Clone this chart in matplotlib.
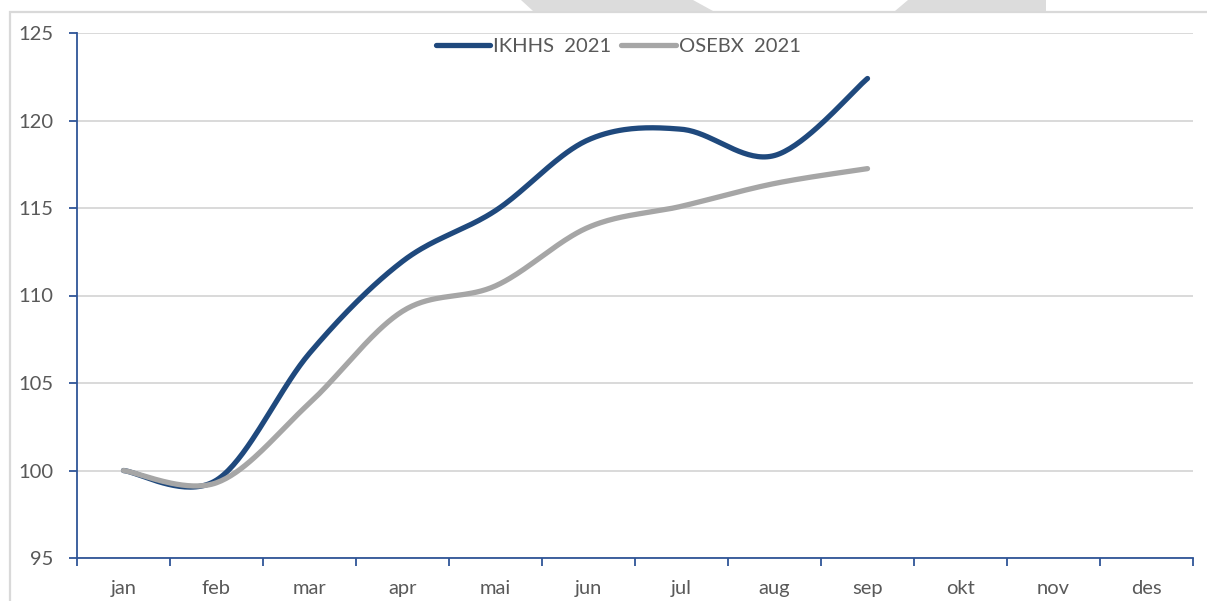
"""Index chart: IKHHS 2021 vs OSEBX 2021, monthly, smoothed lines."""

import matplotlib

matplotlib.use("Agg")
import matplotlib.pyplot as plt
import numpy as np
from matplotlib.patches import Polygon, Rectangle

MONTHS = ["jan", "feb", "mar", "apr", "mai", "jun", "jul", "aug", "sep", "okt", "nov", "des"]
IKHHS = [100.0, 99.45, 106.7, 111.95, 114.85, 118.9, 119.5, 118.0, 122.4]
OSEBX = [100.0, 99.3, 103.85, 109.1, 110.55, 113.9, 115.1, 116.4, 117.25]
SERIES_NAMES = ["IKHHS  2021", "OSEBX  2021"]
Y_TICKS = [95, 100, 105, 110, 115, 120, 125]

BLUE = "#1F497D"
GREY = "#A6A6A6"
TEXT = "#595959"
SPINE = "#2F5597"
GRID = "#D9D9D9"


def smooth(values, steps=40):
    # Excel-style smoothed line: cubic bezier segments with catmull-rom control points
    pts = np.column_stack([np.arange(len(values), dtype=float), np.asarray(values, dtype=float)])
    padded = np.vstack([pts[0], pts, pts[-1]])
    t = np.linspace(0, 1, steps)[:, None]
    out = []
    for i in range(len(pts) - 1):
        p0, p1, p2, p3 = padded[i], padded[i + 1], padded[i + 2], padded[i + 3]
        c1 = p1 + (p2 - p0) / 6
        c2 = p2 - (p3 - p1) / 6
        seg = (1 - t) ** 3 * p1 + 3 * (1 - t) ** 2 * t * c1 + 3 * (1 - t) * t**2 * c2 + t**3 * p2
        out.append(seg if i == 0 else seg[1:])
    curve = np.vstack(out)
    return curve[:, 0], curve[:, 1]


plt.rcParams["font.family"] = ["Lato", "DejaVu Sans"]

fig = plt.figure(figsize=(12.07, 6.01), dpi=100)

# chart-area frame and the grey shapes peeking in at the top edge
W, H = 1207, 601
fig.patches.append(
    Rectangle((9.5 / W, -0.2), 1.2, 1.2 - 11.5 / H, transform=fig.transFigure,
              fill=False, edgecolor=GRID, linewidth=1.6)
)
for shape in ([(521, 0), (693, 0), (713, 11), (533, 11)],
              [(908, 0), (1046, 0), (1046, 11), (895, 11)]):
    fig.patches.append(
        Polygon([(x / W, 1 - y / H) for x, y in shape], closed=True,
                transform=fig.transFigure, facecolor="#DCDCDC", edgecolor="none")
    )

ax = fig.add_axes([77 / W, (H - 558) / H, (1193 - 77) / W, (558 - 33) / H])

x_ikhhs, y_ikhhs = smooth(IKHHS)
x_osebx, y_osebx = smooth(OSEBX)
ax.plot(x_ikhhs, y_ikhhs, color=BLUE, linewidth=3.8, solid_capstyle="round",
        label=SERIES_NAMES[0], zorder=3)
ax.plot(x_osebx, y_osebx, color=GREY, linewidth=3.8, solid_capstyle="round",
        label=SERIES_NAMES[1], zorder=4)

ax.set_xlim(-0.5, len(MONTHS) - 0.5)
ax.set_ylim(Y_TICKS[0], Y_TICKS[-1])
ax.set_yticks(Y_TICKS)
ax.set_xticks(range(len(MONTHS)), MONTHS)
ax.set_xticks(np.arange(-0.5, len(MONTHS)), minor=True)
ax.tick_params(axis="x", which="major", length=0, pad=16, labelsize=14.5, labelcolor=TEXT)
ax.tick_params(axis="x", which="minor", length=6, width=1.3, color=SPINE, direction="out")
ax.tick_params(axis="y", length=6, width=1.3, color=SPINE, pad=11, labelsize=14.5,
               labelcolor=TEXT)

ax.yaxis.grid(True, color=GRID, linewidth=1.4)
ax.set_axisbelow(True)
for side in ("top", "right"):
    ax.spines[side].set_visible(False)
for side in ("left", "bottom"):
    ax.spines[side].set_color(SPINE)
    ax.spines[side].set_linewidth(1.3)

ax.legend(loc="upper center", bbox_to_anchor=(0.485, 1.025), ncols=2, frameon=False,
          fontsize=14.5, labelcolor=TEXT, handlelength=2.7, handletextpad=0.15,
          columnspacing=0.5)

fig.savefig("out.png", dpi=100)
